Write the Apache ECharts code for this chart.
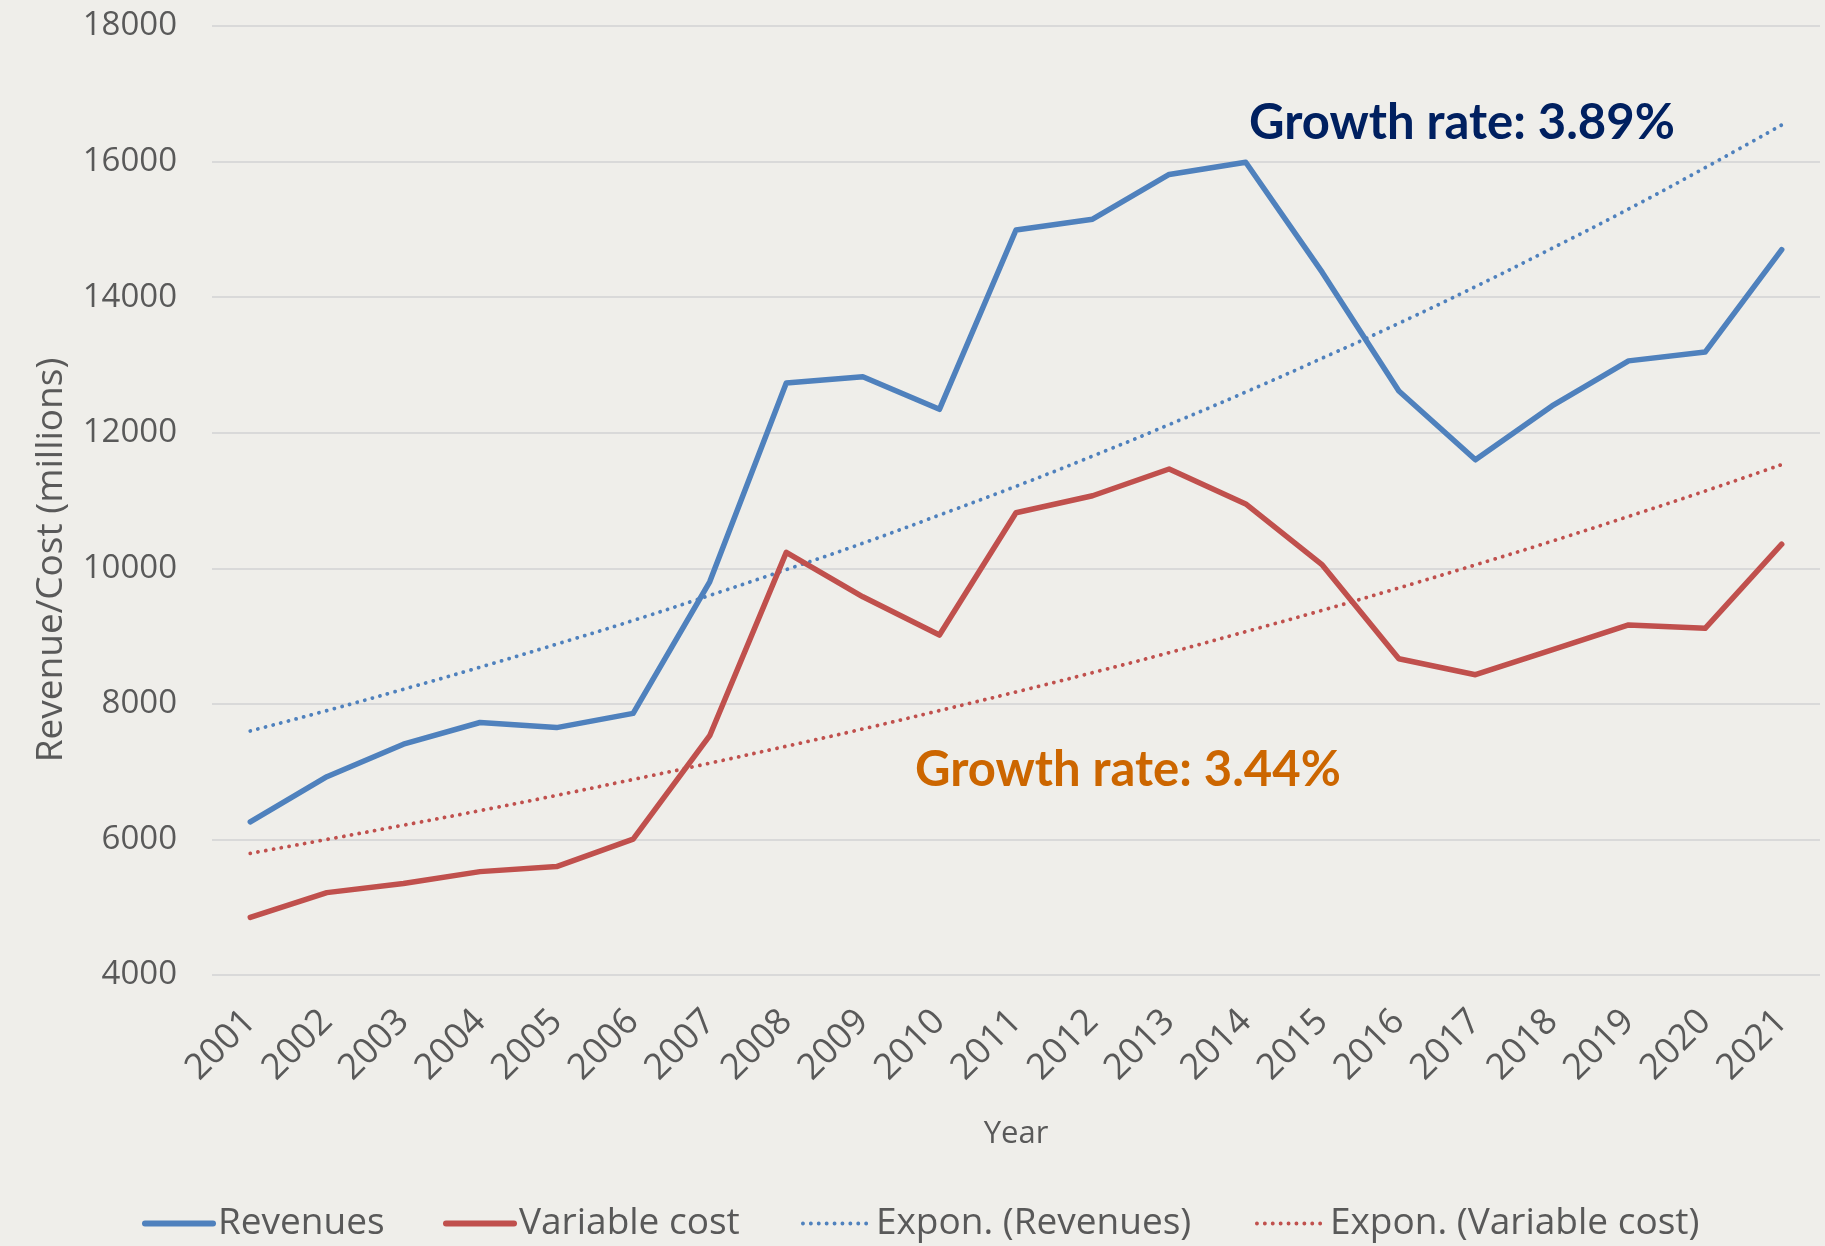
<!DOCTYPE html>
<html>
<head>
<meta charset="utf-8">
<script src="https://cdn.jsdelivr.net/npm/echarts@6/dist/echarts.min.js"></script>
<style>
  html, body { margin: 0; padding: 0; background: #EFEEEA; }
  #chart { width: 1825px; height: 1246px; }
</style>
</head>
<body>
<div id="chart"></div>
<script>
const years = ['2001', '2002', '2003', '2004', '2005', '2006', '2007', '2008', '2009', '2010', '2011',
  '2012', '2013', '2014', '2015', '2016', '2017', '2018', '2019', '2020', '2021']
const revenues = [6260, 6925, 7405, 7725, 7650, 7860, 9800, 12735, 12825, 12345, 14990,
  15150, 15810, 15990, 14365, 12615, 11600, 12395, 13060, 13190, 14700]
const variableCost = [4850, 5215, 5350, 5525, 5600, 6005, 7530, 10235, 9580, 9015, 10820,
  11070, 11465, 10950, 10050, 8665, 8430, 8795, 9165, 9115, 10355]
// trend lines
const trendRevenues = [7600, 7900, 8215, 8540, 8880, 9230, 9600, 9980, 10370, 10785, 11210,
  11655, 12120, 12600, 13100, 13615, 14155, 14720, 15300, 15910, 16540]
const trendCost = [5795, 6000, 6210, 6425, 6650, 6885, 7125, 7375, 7630, 7900, 8175,
  8460, 8755, 9065, 9380, 9710, 10050, 10400, 10765, 11140, 11530]
const yTicks = { min: 4000, max: 18000, step: 2000 }
const growthLabels = ['Growth rate: 3.89%', 'Growth rate: 3.44%']

const font = 'Open Sans'
const grey = '#595959'
const blue = '#4F81BD'
const red = '#C0504D'
const dots = [0.1, 7.8]

const chart = echarts.init(document.getElementById('chart'))

function legendAt (name, left, dotted) {
  return {
    data: [name],
    left: left,
    top: 1205,
    padding: 0,
    itemWidth: 68,
    itemHeight: 14,
    itemStyle: { opacity: 0 },
    lineStyle: dotted
      ? { width: 3.8, type: dots, cap: 'round' }
      : { width: 6, type: 'solid', cap: 'round' },
    textStyle: { fontFamily: font, fontSize: 37, color: grey, padding: [0, 0, 0, 0] }
  }
}

const options = {
  backgroundColor: '#EFEEEA',
  animation: false,
  grid: { left: 212, right: 5, top: 26, bottom: 271, containLabel: false },
  legend: [
    legendAt('Revenues', 142, false),
    legendAt('Variable cost', 443, false),
    legendAt('Expon. (Revenues)', 801, true),
    legendAt('Expon. (Variable cost)', 1255, true)
  ],
  xAxis: {
    type: 'category',
    data: years,
    boundaryGap: true,
    name: 'Year',
    nameLocation: 'middle',
    nameGap: 144,
    nameTextStyle: { fontFamily: font, fontSize: 31, color: grey },
    axisLine: { show: false },
    axisTick: { show: false },
    axisLabel: { rotate: 45, margin: 41, fontFamily: font, fontSize: 36, color: grey, interval: 0 }
  },
  yAxis: {
    type: 'value',
    min: yTicks.min,
    max: yTicks.max,
    interval: yTicks.step,
    axisLine: { show: false },
    axisTick: { show: false },
    axisLabel: {
      margin: 35,
      fontFamily: font,
      fontSize: 33,
      color: grey,
      formatter: function (v) { return String(v) }
    },
    splitLine: { lineStyle: { color: '#D9D9D9', width: 2 } }
  },
  graphic: [
    {
      type: 'text',
      x: 51,
      y: 560,
      rotation: Math.PI / 2,
      style: {
        text: 'Revenue/Cost (millions)',
        fontFamily: font,
        fontSize: 37,
        fill: grey,
        textAlign: 'center',
        textVerticalAlign: 'middle'
      }
    },
    {
      type: 'text',
      x: 1249,
      y: 123,
      style: {
        text: growthLabels[0],
        fontFamily: 'Lato',
        fontWeight: 'bold',
        fontSize: 49,
        fill: '#002060',
        textAlign: 'left',
        textVerticalAlign: 'middle'
      }
    },
    {
      type: 'text',
      x: 915,
      y: 770,
      style: {
        text: growthLabels[1],
        fontFamily: 'Lato',
        fontWeight: 'bold',
        fontSize: 49,
        fill: '#CC6600',
        textAlign: 'left',
        textVerticalAlign: 'middle'
      }
    }
  ],
  series: [
    {
      name: 'Revenues',
      type: 'line',
      data: revenues,
      symbol: 'none',
      z: 5,
      itemStyle: { color: blue },
      lineStyle: { color: blue, width: 5.5, cap: 'round', join: 'round' }
    },
    {
      name: 'Variable cost',
      type: 'line',
      data: variableCost,
      symbol: 'none',
      z: 5,
      itemStyle: { color: red },
      lineStyle: { color: red, width: 5.5, cap: 'round', join: 'round' }
    },
    {
      name: 'Expon. (Revenues)',
      type: 'line',
      data: trendRevenues,
      symbol: 'none',
      smooth: true,
      z: 3,
      itemStyle: { color: blue },
      lineStyle: { color: blue, width: 3.8, type: dots, cap: 'round' }
    },
    {
      name: 'Expon. (Variable cost)',
      type: 'line',
      data: trendCost,
      symbol: 'none',
      smooth: true,
      z: 3,
      itemStyle: { color: red },
      lineStyle: { color: red, width: 3.8, type: dots, cap: 'round' }
    }
  ]
}
chart.setOption(options)
</script>
</body>
</html>
